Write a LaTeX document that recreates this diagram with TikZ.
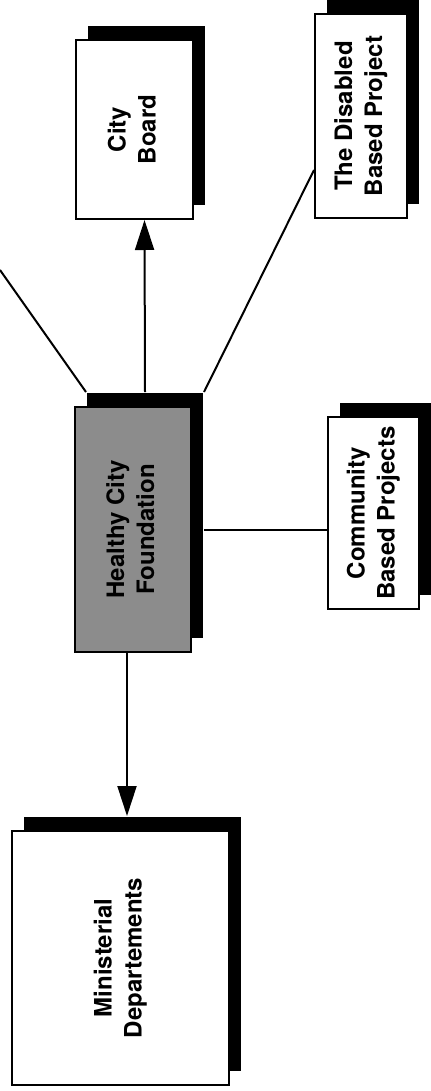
\documentclass[tikz,border=0pt]{standalone}
\usepackage{fontspec}
\usepackage{graphicx}
\setmainfont{TeX Gyre Heros}
\usetikzlibrary{arrows.meta,shadows}
\newcommand{\sidetext}[1]{\rotatebox{90}{\begin{tabular}{@{}c@{}}#1\end{tabular}}}
\tikzset{
  box/.style={draw, line width=1pt, fill=white, inner sep=0pt,
    font=\fontsize{12}{15}\selectfont\bfseries,
    drop shadow={shadow xshift=6pt, shadow yshift=7pt, fill=black, opacity=1}},
  link/.style={line width=1pt},
  arr/.style={line width=1pt, -{Triangle[length=15pt,width=9.5pt]}}
}
\begin{document}
\begin{tikzpicture}[x=0.5pt, y=-0.5pt]
    \useasboundingbox (0,0) rectangle (431,1091);
    % boxes
    \node[box, minimum width=58.5pt, minimum height=89.5pt] (board) at (134.5,129.5) {\sidetext{City\\Board}};
    \node[box, minimum width=46pt, minimum height=102pt] (disabled) at (361,116) {\sidetext{The Disabled\\Based Project}};
    \node[box, fill=black!45, minimum width=58pt, minimum height=122.5pt] (hub) at (133,529.5) {\sidetext{Healthy City\\Foundation}};
    \node[box, minimum width=45.5pt, minimum height=96pt] (community) at (373.5,513) {\sidetext{Community\\Based Projects}};
    \node[box, minimum width=108.5pt, minimum height=127pt] (ministry) at (120.5,958) {\sidetext{Ministerial\\Departements}};
    % connectors
    \coordinate (edge) at (0,270);
    \coordinate (hubr) at ([xshift=6pt]hub.east);
    \coordinate (hubb) at ([xshift=-3pt]hub.south);
    \coordinate (mtop) at ([yshift=7pt]ministry.north);
    \draw[link] (edge) -- ([xshift=6pt,yshift=7pt]hub.north west);
    \draw[arr] ([xshift=6pt,yshift=7pt]hub.north) -- ([xshift=5pt]board.south);
    \draw[link] ([yshift=-27pt]disabled.west) -- ([xshift=6pt,yshift=7pt]hub.north east);
    \draw[link] (hubr) -- (hubr -| community.west);
    \draw[arr] (hubb) -- (hubb |- mtop);
\end{tikzpicture}
\end{document}
